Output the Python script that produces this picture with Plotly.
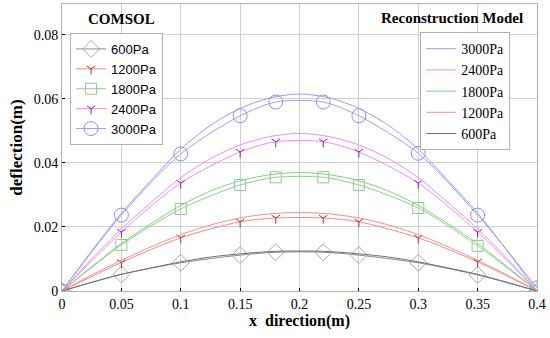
import plotly.graph_objects as go

# COMSOL sample positions and values
x_comsol = [0, 0.05, 0.1, 0.15, 0.18, 0.22, 0.25, 0.3, 0.35, 0.4]
comsol_600 = [0, 0.0052, 0.0088, 0.0112, 0.0121, 0.0121, 0.0112, 0.0088, 0.0050, 0]
comsol_1200 = [0, 0.0089, 0.0166, 0.0216, 0.0228, 0.0228, 0.0216, 0.0166, 0.0091, 0]
comsol_1800 = [0, 0.0144, 0.0256, 0.0331, 0.0355, 0.0355, 0.0331, 0.0259, 0.0141, 0]
comsol_2400 = [0, 0.0184, 0.0337, 0.0434, 0.0466, 0.0466, 0.0434, 0.0337, 0.0184, 0]
comsol_3000 = [0, 0.0237, 0.0428, 0.0547, 0.0590, 0.0590, 0.0547, 0.0430, 0.0237, 0.001]

# Reconstruction model curve values
x_recon = [0, 0.025, 0.05, 0.075, 0.1, 0.125, 0.15, 0.175, 0.2,
           0.225, 0.25, 0.275, 0.3, 0.325, 0.35, 0.375, 0.4]
recon_600 = [0, 0.0027, 0.0052, 0.0072, 0.0091, 0.0106, 0.0116, 0.0123, 0.0125,
             0.0123, 0.0116, 0.0106, 0.0091, 0.0072, 0.0052, 0.0027, 0]
recon_1200 = [0, 0.0050, 0.0096, 0.0138, 0.0176, 0.0206, 0.0228, 0.0241, 0.0245,
              0.0241, 0.0228, 0.0206, 0.0176, 0.0138, 0.0096, 0.0050, 0]
recon_1800 = [0, 0.0076, 0.0148, 0.0210, 0.0267, 0.0312, 0.0344, 0.0363, 0.0370,
              0.0363, 0.0344, 0.0312, 0.0267, 0.0210, 0.0148, 0.0076, 0]
recon_2400 = [0, 0.0100, 0.0194, 0.0276, 0.0354, 0.0413, 0.0456, 0.0482, 0.0492,
              0.0482, 0.0456, 0.0413, 0.0354, 0.0276, 0.0194, 0.0100, 0]
recon_3000 = [0, 0.0125, 0.0243, 0.0345, 0.0443, 0.0517, 0.0570, 0.0603, 0.0615,
              0.0603, 0.0570, 0.0517, 0.0443, 0.0345, 0.0243, 0.0125, 0]

x_ticks = [0, 0.05, 0.1, 0.15, 0.2, 0.25, 0.3, 0.35, 0.4]
x_tick_text = ["0", "0.05", "0.1", "0.15", "0.2", "0.25", "0.3", "0.35", "0.4"]
y_ticks = [0, 0.02, 0.04, 0.06, 0.08]
y_tick_text = ["0", "0.02", "0.04", "0.06", "0.08"]

labels = ["600Pa", "1200Pa", "1800Pa", "2400Pa", "3000Pa"]
comsol = [comsol_600, comsol_1200, comsol_1800, comsol_2400, comsol_3000]
recon = [recon_600, recon_1200, recon_1800, recon_2400, recon_3000]
line_colors = ["#8c8c8c", "#f08a8a", "#8fcf8f", "#ee8fee", "#a0a0f0"]
recon_colors = ["#707070", "#f49090", "#7fcf7f", "#e890e8", "#9999f0"]
marker_colors = ["#a8a8a8", "#b03030", "#90c890", "#9020c0", "#9090e0"]
symbols = ["diamond-open", "y-down-open", "square-open", "y-down-open", "circle-open"]
sizes = [13, 7, 11, 7, 14]

fig = go.Figure()

for i in range(5):
    fig.add_trace(go.Scatter(
        x=x_comsol, y=comsol[i], mode="lines+markers", name=labels[i],
        line=dict(color=line_colors[i], width=1, shape="spline", smoothing=0.8),
        marker=dict(symbol=symbols[i], size=sizes[i], color=marker_colors[i],
                    line=dict(width=1, color=marker_colors[i])),
        legend="legend",
    ))

for i in reversed(range(5)):
    fig.add_trace(go.Scatter(
        x=x_recon, y=recon[i], mode="lines", name=labels[i],
        line=dict(color=recon_colors[i], width=1, shape="spline", smoothing=0.8),
        legend="legend2",
    ))

serif = "Liberation Serif, DejaVu Serif, serif"

fig.update_layout(
    width=550, height=338,
    margin=dict(l=62, r=13, t=4, b=47),
    paper_bgcolor="white", plot_bgcolor="white",
    font=dict(family=serif, size=14, color="black"),
    xaxis=dict(range=[0, 0.4], tickvals=x_ticks, ticktext=x_tick_text,
               automargin=False,
               showgrid=True, gridcolor="#d0d0d0", gridwidth=1,
               showline=True, linecolor="#b0b0b0", mirror=True,
               ticks="inside", ticklen=3, tickcolor="black",
               zeroline=False,
               title=dict(text="<b>x  direction(m)</b>", font=dict(family=serif, size=16), standoff=4)),
    yaxis=dict(range=[0, 0.0896], tickvals=y_ticks, ticktext=y_tick_text,
               automargin=False,
               showgrid=True, gridcolor="#d0d0d0", gridwidth=1,
               showline=True, linecolor="#b0b0b0", mirror=True,
               ticks="inside", ticklen=3, tickcolor="black",
               zeroline=False,
               title=dict(text="<b>deflection(m)</b>", font=dict(family=serif, size=17), standoff=6)),
    legend=dict(x=0.017, y=0.899, xanchor="left", yanchor="top",
                bgcolor="white", bordercolor="#b0b0b0", borderwidth=1,
                font=dict(family="Liberation Sans, Arial, sans-serif", size=13),
                tracegroupgap=0, itemsizing="trace"),
    legend2=dict(x=0.754, y=0.902, xanchor="left", yanchor="top",
                 bgcolor="white", bordercolor="#b0b0b0", borderwidth=1,
                 font=dict(family=serif, size=14),
                 tracegroupgap=0),
    annotations=[
        dict(text="<b>COMSOL</b>", x=0.126, y=0.948, xref="paper", yref="paper",
             xanchor="center", yanchor="middle",
             showarrow=False, font=dict(family=serif, size=15)),
        dict(text="<b>Reconstruction Model</b>", x=0.82, y=0.952, xref="paper", yref="paper",
             xanchor="center", yanchor="middle",
             showarrow=False, font=dict(family=serif, size=15)),
    ],
)

fig.write_html("out.html", config={"displayModeBar": False},
               post_script="document.body.style.margin='0';document.body.style.overflow='hidden';")
